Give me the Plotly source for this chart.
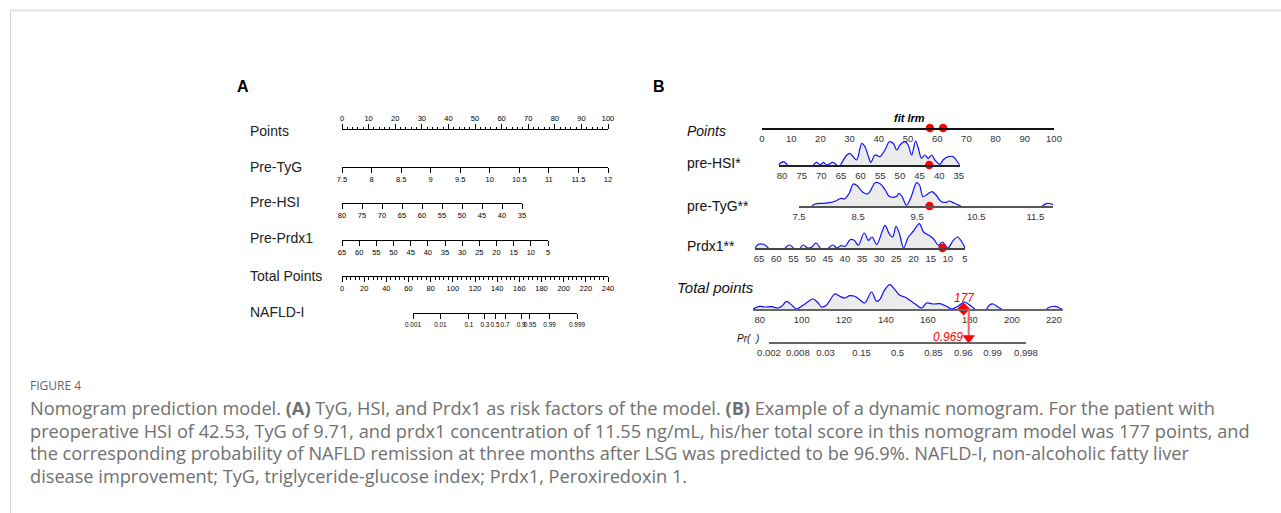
import numpy as np
import plotly.graph_objects as go

W, H = 1281, 513
FONT = "Liberation Sans, Arial, sans-serif"
CAP_FONT = "Open Sans, Lato, sans-serif"

# ---------------- data: panel A (static nomogram) ----------------
a_row_labels = ["Points", "Pre-TyG", "Pre-HSI", "Pre-Prdx1", "Total Points", "NAFLD-I"]
a_points_ticks = list(range(0, 101, 10))
a_points_minor = list(range(0, 101, 2))
a_tyg_ticks = [7.5, 8, 8.5, 9, 9.5, 10, 10.5, 11, 11.5, 12]
a_hsi_ticks = [80, 75, 70, 65, 60, 55, 50, 45, 40, 35]
a_prdx1_ticks = [65, 60, 55, 50, 45, 40, 35, 30, 25, 20, 15, 10, 5]
a_total_ticks = list(range(0, 241, 20))
a_total_minor = list(range(0, 241, 4))
a_nafld_probs = [0.001, 0.01, 0.1, 0.3, 0.5, 0.7, 0.9, 0.95, 0.99, 0.999]
a_nafld_labels = ["0.001", "0.01", "0.1", "0.3", "0.5", "0.7", "0.9", "0.95", "0.99", "0.999"]

# ---------------- data: panel B (dynamic nomogram) ----------------
b_row_labels = ["Points", "pre-HSI*", "pre-TyG**", "Prdx1**", "Total points", "Pr(  )"]
b_points_ticks = list(range(0, 101, 10))
b_hsi_ticks = [80, 75, 70, 65, 60, 55, 50, 45, 40, 35]
b_tyg_ticks = [7.5, 8.5, 9.5, 10.5, 11.5]
b_prdx1_ticks = [65, 60, 55, 50, 45, 40, 35, 30, 25, 20, 15, 10, 5]
b_total_ticks = [80, 100, 120, 140, 160, 180, 200, 220]
b_pr_probs = [0.002, 0.008, 0.03, 0.15, 0.5, 0.85, 0.96, 0.99, 0.998]
b_pr_labels = ["0.002", "0.008", "0.03", "0.15", "0.5", "0.85", "0.96", "0.99", "0.998"]

# density outlines (relative density)
hsi_x = [80.9, 79.7, 78.6, 72.0, 71.2, 70.2, 69.5, 68.6, 67.1, 66.1, 65.1, 63.5, 62.7, 61.9, 61.0,
         59.7, 58.9, 58.0, 57.4, 56.3, 55.1, 53.8, 52.7, 51.7, 50.8, 50.0, 48.7, 47.9, 47.0, 46.0,
         45.3, 44.5, 43.6, 42.8, 41.9, 41.1, 39.8, 39.0, 37.7, 36.4, 35.5, 34.8]
hsi_d = [0, 3.3, 0, 0, 2.7, 0, 2.7, 0, 2.7, 0, 0, 10, 11.7, 8.3, 5, 21.7, 18.3, 8.3, 2.7, 10,
         8.3, 15, 23.3, 21.7, 15, 20, 23.3, 20, 10, 24, 16.7, 6.7, 10, 6.7, 10, 5, 0.7, 5, 8.3, 8.3, 4, 0]

tyg_x = [7.72, 7.77, 7.91, 8.02, 8.13, 8.21, 8.27, 8.35, 8.42, 8.49, 8.57, 8.66, 8.71, 8.79, 8.88,
         8.96, 9.02, 9.10, 9.16, 9.19, 9.24, 9.32, 9.40, 9.49, 9.54, 9.60, 9.68, 9.75, 9.82, 9.91,
         9.99, 10.04, 10.13, 10.24, 11.62, 11.70, 11.80]
tyg_d = [0, 2, 2.7, 3.3, 5.3, 7.7, 7, 12.7, 22, 20, 14.3, 12, 15.3, 23.3, 22, 16, 10, 8.7, 10, 12.7,
         10, 0.7, 9.3, 23.3, 21, 9.3, 12, 14.3, 11, 4.3, 3.7, 5, 2.7, 0, 0, 2.7, 1.5]

prdx_x = [66.2, 65.2, 63.7, 62.3, 57.4, 56.2, 55.0, 53.0, 52.1, 50.9, 49.6, 48.5, 47.2, 44.8, 43.5,
          42.3, 41.2, 39.9, 38.5, 37.3, 36.1, 34.4, 33.1, 32.1, 30.7, 29.2, 28.3, 27.1, 26.1, 25.1,
          24.1, 22.9, 21.5, 20.0, 18.3, 17.1, 15.6, 14.2, 12.7, 11.6, 10.0, 8.4, 7.2, 5.9, 5.0]
prdx_d = [0, 3.7, 3.7, 0, 0, 3, 0, 0, 3, 0, 1, 5, 0, 0, 3, 0, 2.3, 1.7, 8.3, 7.7, 2.7, 15, 7.7, 11,
          3.7, 16, 22.7, 14.3, 11, 21.7, 14.3, 0, 11, 17, 24.3, 16, 12.7, 9.3, 2.7, 6, 0, 7.7, 11, 6, 0]

tot_x = [76.8, 80.0, 82.4, 85.6, 88.7, 90.5, 92.7, 95.1, 97.5, 100.6, 105.4, 107.8, 109.4, 111.7,
         115.7, 118.1, 120.5, 122.9, 125.2, 127.6, 130.0, 133.2, 135.6, 137.1, 139.5, 141.9, 144.3,
         146.7, 149.0, 151.4, 153.8, 157.0, 159.4, 162.5, 165.7, 168.9, 171.3, 174.5, 177.5, 180.5,
         182.4, 188.0, 189.5, 191.1, 193.5, 195.1, 216.5, 218.1, 220.5, 223.7]
tot_d = [0, 2.7, 2, 2.3, 1, 2.7, 7.7, 4.3, 0, 3.7, 10, 6, 2, 3.7, 15, 12.7, 11, 13.3, 12.7, 9.3,
         6, 17, 7.7, 9.3, 19.3, 24.3, 19.3, 13.7, 12, 8.7, 5.3, 1, 6, 5, 5.3, 2.7, 0, 3, 7, 3,
         0, 0, 4.3, 5, 1.7, 0, 0, 2, 2.7, 0]

# the example patient
points_dots = [57.5, 62.0]
patient_hsi = 42.53
patient_tyg = 9.71
patient_prdx1 = 11.55
patient_total = 177
patient_prob = 0.969

caption_title = "FIGURE 4"
caption_lines = [
    "Nomogram prediction model. <b>(A)</b> TyG, HSI, and Prdx1 as risk factors of the model. <b>(B)</b> Example of a dynamic nomogram. For the patient with",
    "preoperative HSI of 42.53, TyG of 9.71, and prdx1 concentration of 11.55 ng/mL, his/her total score in this nomogram model was 177 points, and",
    "the corresponding probability of NAFLD remission at three months after LSG was predicted to be 96.9%. NAFLD-I, non-alcoholic fatty liver",
    "disease improvement; TyG, triglyceride-glucose index; Prdx1, Peroxiredoxin 1.",
]


def logit(p):
    p = np.asarray(p, dtype=float)
    return np.log(p / (1 - p))


def fx(px):
    return px / W


def fy(py):
    return 1 - py / H


def split_zero_runs(xs, ds):
    """Break the outline where the density stays at zero so it is not drawn along the axis."""
    ox, oy = [], []
    for i, (x, d) in enumerate(zip(xs, ds)):
        if i > 0 and d == 0 and ds[i - 1] == 0:
            ox.append(None)
            oy.append(None)
        ox.append(x)
        oy.append(d)
    return ox, oy


fig = go.Figure()
layout = dict(width=W, height=H, margin=dict(l=0, r=0, t=0, b=0, autoexpand=False),
              template="none", paper_bgcolor="white", plot_bgcolor="rgba(0,0,0,0)",
              showlegend=False)
counter = [0]


def add_axis(dom_px, rng, line_py, side="bottom", h_px=30, **kw):
    counter[0] += 1
    n = counter[0]
    xs = "" if n == 1 else str(n)
    if side == "top":
        ydom = [fy(line_py + h_px), fy(line_py)]
    else:
        ydom = [fy(line_py), fy(line_py - h_px)]
    xa = dict(domain=[fx(dom_px[0]), fx(dom_px[1])], range=rng, anchor="y" + xs,
              side=side, showgrid=False, zeroline=False, showline=True, fixedrange=True,
              automargin=False, tickangle=0)
    xa.update(kw)
    ya = dict(domain=ydom, range=[0, h_px], visible=False, fixedrange=True,
              anchor="x" + xs, automargin=False, showgrid=False, zeroline=False)
    layout["xaxis" + xs] = xa
    layout["yaxis" + xs] = ya
    # invisible carrier so the subplot is always created
    fig.add_trace(go.Scatter(x=[rng[0]], y=[0], xaxis="x" + xs, yaxis="y" + xs, mode="markers",
                             marker=dict(opacity=0, size=1), hoverinfo="skip"))
    return "x" + xs, "y" + xs


# ---------------- panel A ----------------
a_tick = dict(ticks="outside", ticklen=5, tickwidth=1, tickcolor="black", linecolor="black",
              linewidth=1, tickfont=dict(family=FONT, size=7.5, color="black"))
add_axis([342, 608], [0, 100], 130, side="top", tickvals=a_points_ticks,
         minor=dict(tickvals=a_points_minor, ticks="outside", ticklen=2.5, tickcolor="black"),
         **a_tick)
add_axis([342, 608], [7.5, 12], 166.6, tickvals=a_tyg_ticks, **a_tick)
add_axis([342, 522], [80, 35], 203.2, tickvals=a_hsi_ticks, **a_tick)
add_axis([342, 548], [65, 5], 239.8, tickvals=a_prdx1_ticks, **a_tick)
add_axis([342, 608], [0, 240], 276.4, tickvals=a_total_ticks,
         minor=dict(tickvals=a_total_minor, ticks="outside", ticklen=2.5, tickcolor="black"),
         **a_tick)
a_tick_small = dict(a_tick, tickfont=dict(family=FONT, size=6.4, color="black"))
add_axis([413, 577], [float(logit(0.001)), float(logit(0.999))], 313,
         tickvals=list(logit(a_nafld_probs)), ticktext=a_nafld_labels, **a_tick_small)

annotations = []
for lab, yy in zip(a_row_labels, [131, 167, 202, 238, 276, 312]):
    annotations.append(dict(text=lab, x=fx(248), y=fy(yy), xref="paper", yref="paper",
                            xanchor="left", yanchor="middle", showarrow=False,
                            font=dict(family=FONT, size=14, color="#222")))
annotations.append(dict(text="<b>A</b>", x=fx(235), y=fy(87), xref="paper", yref="paper",
                        xanchor="left", yanchor="middle", showarrow=False,
                        font=dict(family=FONT, size=16, color="black")))
annotations.append(dict(text="<b>B</b>", x=fx(651), y=fy(87), xref="paper", yref="paper",
                        xanchor="left", yanchor="middle", showarrow=False,
                        font=dict(family=FONT, size=16, color="black")))

# ---------------- panel B ----------------
b_tick = dict(ticks="", tickfont=dict(family=FONT, size=9.5, color="#333"),
              ticklabelstandoff=1)
bx_pts, by_pts = add_axis([762, 1054], [0, 100], 128, tickvals=b_points_ticks,
                          linecolor="#111", linewidth=1.6, **b_tick)
bx_hsi, by_hsi = add_axis([778.5, 959.6], [80.9, 34.8], 165, tickvals=b_hsi_ticks,
                          linecolor="#222", linewidth=1.6, **b_tick)
bx_tyg, by_tyg = add_axis([799, 1053], [7.5, 11.8], 206, tickvals=b_tyg_ticks,
                          linecolor="#555", linewidth=1.6, **b_tick)
bx_prx, by_prx = add_axis([755, 965], [66.2, 5], 248, tickvals=b_prdx1_ticks,
                          linecolor="#444", linewidth=1.6, **b_tick)
bx_tot, by_tot = add_axis([753, 1063], [76.8, 224.3], 309, tickvals=b_total_ticks,
                          linecolor="#666", linewidth=1.6, **b_tick)
bx_pr, by_pr = add_axis([769, 1026], [float(logit(0.002)), float(logit(0.998))], 342, h_px=33,
                        tickvals=list(logit(b_pr_probs)), ticktext=b_pr_labels,
                        linecolor="#666", linewidth=1.6, **b_tick)
layout["yaxis%s" % bx_pr[1:]]["range"] = [0, 1]

dens_style = dict(mode="lines", line=dict(color="#1010ff", width=1.2, shape="spline", smoothing=0.9),
                  fill="tozeroy", fillcolor="#ebebeb", hoverinfo="skip", connectgaps=False)
for xs, ds, xa, ya in [(hsi_x, hsi_d, bx_hsi, by_hsi), (tyg_x, tyg_d, bx_tyg, by_tyg),
                       (prdx_x, prdx_d, bx_prx, by_prx), (tot_x, tot_d, bx_tot, by_tot)]:
    sx, sy = split_zero_runs(xs, ds)
    fig.add_trace(go.Scatter(x=sx, y=sy, xaxis=xa, yaxis=ya, **dens_style))

red = "#ff0000"
dot = dict(mode="markers", marker=dict(color=red, size=8.5), cliponaxis=False, hoverinfo="skip")
fig.add_trace(go.Scatter(x=points_dots, y=[0] * len(points_dots), xaxis=bx_pts, yaxis=by_pts, **dot))
fig.add_trace(go.Scatter(x=[patient_hsi], y=[0], xaxis=bx_hsi, yaxis=by_hsi, **dot))
fig.add_trace(go.Scatter(x=[patient_tyg], y=[0], xaxis=bx_tyg, yaxis=by_tyg, **dot))
fig.add_trace(go.Scatter(x=[patient_prdx1], y=[0], xaxis=bx_prx, yaxis=by_prx, **dot))

# total-points marker and arrow to probability
lp = float(logit(patient_prob))
fig.add_trace(go.Scatter(x=[lp, lp], y=[0.1, 1], xaxis=bx_pr, yaxis=by_pr, mode="lines",
                         line=dict(color="#f06060", width=2), hoverinfo="skip"))
fig.add_trace(go.Scatter(x=[patient_total], y=[0], xaxis=bx_tot, yaxis=by_tot, mode="markers",
                         marker=dict(color=red, size=10, symbol="diamond"), cliponaxis=False,
                         hoverinfo="skip"))
fig.add_trace(go.Scatter(x=[lp], y=[0.12], xaxis=bx_pr, yaxis=by_pr, mode="markers",
                         marker=dict(color=red, size=11, symbol="triangle-down"), cliponaxis=False,
                         hoverinfo="skip"))
annotations.append(dict(text="<i>%d</i>" % patient_total, x=patient_total, y=11, xref=bx_tot,
                        yref=by_tot, xanchor="center", yanchor="middle", showarrow=False,
                        xshift=1, font=dict(family=FONT, size=12, color=red)))
annotations.append(dict(text="<i>%.3f</i>" % patient_prob, x=lp, y=0.16, xref=bx_pr, yref=by_pr,
                        xanchor="right", yanchor="middle", xshift=-4, showarrow=False,
                        font=dict(family=FONT, size=12, color=red)))
annotations.append(dict(text="<b><i>fit lrm</i></b>", x=fx(909), y=fy(118), xref="paper",
                        yref="paper", xanchor="center", yanchor="middle", showarrow=False,
                        font=dict(family=FONT, size=11, color="black")))

b_label_pos = [(685, 131, True, 14), (685, 163, False, 14), (685, 206, False, 14),
               (685, 246, False, 14), (675, 287, True, 15), (735, 338, True, 10)]
for lab, (xx, yy, it, sz) in zip(b_row_labels, b_label_pos):
    annotations.append(dict(text=("<i>%s</i>" % lab) if it else lab, x=fx(xx), y=fy(yy),
                            xref="paper", yref="paper", xanchor="left", yanchor="middle",
                            showarrow=False, font=dict(family=FONT, size=sz, color="#111")))

# ---------------- caption ----------------
annotations.append(dict(text=caption_title, x=fx(28), y=fy(385), xref="paper", yref="paper",
                        xanchor="left", yanchor="middle", showarrow=False,
                        font=dict(family=CAP_FONT, size=12, color="#666")))
for i, line in enumerate(caption_lines):
    annotations.append(dict(text=line, x=fx(28), y=fy(408 + 22.7 * i), xref="paper", yref="paper",
                            xanchor="left", yanchor="middle", showarrow=False,
                            font=dict(family=CAP_FONT, size=18.2, color="#707070")))

layout["annotations"] = annotations
layout["shapes"] = [
    dict(type="line", xref="paper", yref="paper", x0=fx(10), x1=1, y0=fy(10.5), y1=fy(10.5),
         line=dict(color="#e2e2e2", width=2)),
    dict(type="line", xref="paper", yref="paper", x0=fx(10.5), x1=fx(10.5), y0=fy(10), y1=0,
         line=dict(color="#d6d6d6", width=1)),
]
fig.update_layout(**layout)
fig.write_html("out.html")
